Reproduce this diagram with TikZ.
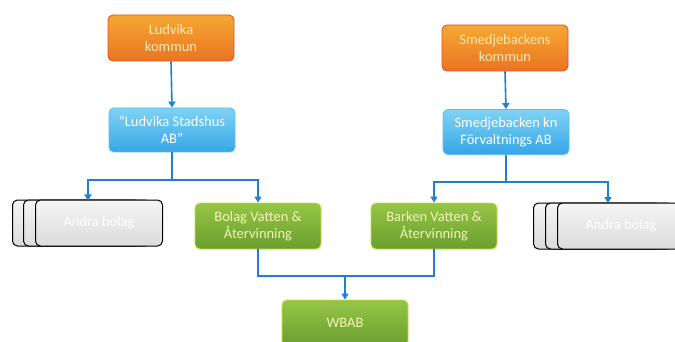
\documentclass[tikz,border=0pt]{standalone}
\usepackage{fontspec}
\setmainfont{Carlito}
\usetikzlibrary{arrows.meta,shadings}
\definecolor{conn}{HTML}{1F80D2}
\definecolor{otop}{HTML}{F6A833}
\definecolor{obot}{HTML}{EA7422}
\definecolor{oline}{HTML}{E4502A}
\definecolor{otext}{HTML}{FAEBB0}
\definecolor{btop}{HTML}{7FD2F4}
\definecolor{bbot}{HTML}{36A6E6}
\definecolor{bline}{HTML}{5CC0EC}
\definecolor{gtop}{HTML}{96C646}
\definecolor{gbot}{HTML}{6A9E2E}
\definecolor{gline}{HTML}{C8DC40}
\definecolor{gtext}{HTML}{F2F4B8}
\tikzset{
  x=1pt,y=-1pt,
  box/.style={rounded corners=5pt, minimum width=126pt, minimum height=46pt, align=center,
    text=white, font=\fontsize{14.5}{17}\selectfont, line width=0.9pt},
  orangebox/.style={box, draw=oline, top color=otop, bottom color=obot, text=otext},
  bluebox/.style={box, draw=bline, top color=btop, bottom color=bbot},
  greenbox/.style={box, draw=gline, top color=gtop, bottom color=gbot, text=gtext},
  greybox/.style={box, draw=black, line width=1pt, top color=gray!8, bottom color=gray!28, minimum width=127pt},
  conline/.style={draw=conn, line width=1.6pt},
  conarrow/.style={conline, -{Triangle[length=6pt,width=7pt]}},
}
\begin{document}
\begin{tikzpicture}
\useasboundingbox (0,0) rectangle (675,342);
\clip (0,0) rectangle (675,342);
\fill[white] (0,0) rectangle (675,342);

% top row
\node[orangebox] (lk) at (171,38) {Ludvika\\kommun};
\node[orangebox] (sk) at (505,48) {Smedjebackens\\kommun};
% second row
\node[bluebox, minimum height=44pt] (ls) at (172,130) {“Ludvika Stadshus\\AB”};
\node[bluebox, minimum height=45pt] (sf) at (506,132) {Smedjebacken kn\\Förvaltnings AB};

% stacked grey boxes left
\node[greybox] (la3) at (76,223) {};
\node[greybox] (la2) at (87,223) {};
\node[greybox] (la) at (99,223) {Andra bolag};
% stacked grey boxes right
\node[greybox] (ra3) at (597,226) {};
\node[greybox] (ra2) at (609,226) {};
\node[greybox] (ra) at (621,226) {Andra bolag};

% green
\node[greenbox] (bv) at (258,226) {Bolag Vatten \&\\Återvinning};
\node[greenbox] (barv) at (434,226) {Barken Vatten \&\\Återvinning};
\node[greenbox] (wbab) at (345,323) {WBAB};

% connectors
\draw[conarrow] (lk.south) -- (ls.north);
\draw[conarrow] (sk.south) -- (sf.north);

\coordinate (lj) at (172,180);
\draw[conline] (ls.south) -- (lj);
\draw[conarrow] (lj) -| (88,200.5);
\draw[conarrow] (lj) -| (bv.north);

\coordinate (rj) at (506,182);
\draw[conline] (sf.south) -- (rj);
\draw[conarrow] (rj) -| (barv.north);
\draw[conarrow] (rj) -| (608,203);

\coordinate (bj) at (345,276);
\draw[conline] (bv.south) |- (bj) -| (barv.south);
\draw[conarrow] (bj) -- (wbab.north);
\end{tikzpicture}
\end{document}
